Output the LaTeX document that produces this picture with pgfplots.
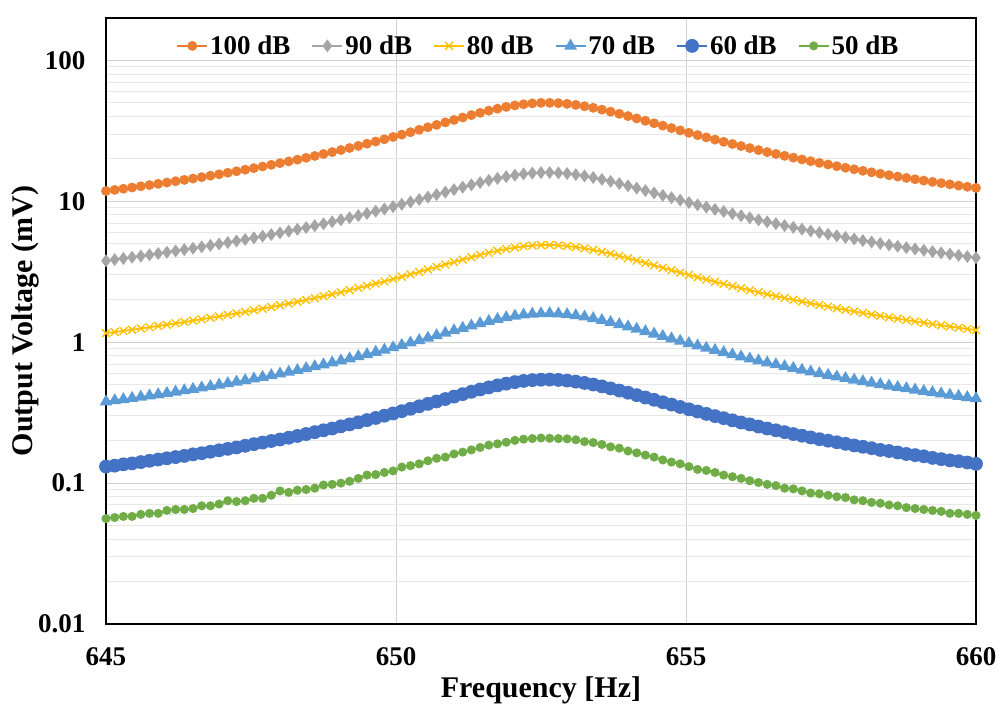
\documentclass[border=0pt]{standalone}
\usepackage{pgfplots}
\usepackage{pgfplotstable}
\pgfplotsset{compat=1.18}
\usepackage{fontspec}
\setmainfont{Liberation Serif}
\definecolor{c100}{RGB}{237,125,49}
\definecolor{c90}{RGB}{165,165,165}
\definecolor{c80}{RGB}{255,192,0}
\definecolor{c70}{RGB}{91,155,213}
\definecolor{c60}{RGB}{68,114,196}
\definecolor{c50}{RGB}{112,173,71}
\pgfplotstableread{
f a b c d e g
645.00 11.83 3.784 1.159 0.378 0.131 0.056
645.15 12.05 3.856 1.181 0.386 0.133 0.057
645.30 12.28 3.930 1.203 0.393 0.136 0.058
645.45 12.53 4.008 1.227 0.401 0.138 0.058
645.60 12.78 4.088 1.252 0.409 0.141 0.060
645.75 13.04 4.171 1.277 0.417 0.144 0.061
645.90 13.31 4.258 1.304 0.426 0.147 0.061
646.05 13.59 4.349 1.332 0.435 0.150 0.064
646.20 13.89 4.443 1.361 0.444 0.153 0.065
646.35 14.19 4.541 1.391 0.454 0.156 0.065
646.50 14.51 4.643 1.422 0.464 0.160 0.066
646.65 14.85 4.750 1.455 0.475 0.163 0.069
646.80 15.20 4.862 1.489 0.486 0.167 0.069
646.95 15.56 4.978 1.524 0.498 0.171 0.071
647.10 15.94 5.101 1.562 0.510 0.175 0.075
647.25 16.34 5.229 1.601 0.523 0.179 0.074
647.40 16.76 5.363 1.642 0.536 0.184 0.075
647.55 17.20 5.504 1.686 0.550 0.189 0.078
647.70 17.66 5.651 1.731 0.565 0.194 0.078
647.85 18.15 5.806 1.778 0.581 0.199 0.082
648.00 18.66 5.970 1.828 0.597 0.204 0.088
648.15 19.20 6.142 1.881 0.614 0.210 0.086
648.30 19.76 6.323 1.937 0.632 0.216 0.089
648.45 20.36 6.515 1.995 0.652 0.223 0.090
648.60 20.99 6.717 2.057 0.672 0.230 0.092
648.75 21.66 6.930 2.122 0.693 0.237 0.097
648.90 22.36 7.155 2.191 0.716 0.244 0.098
649.05 23.11 7.394 2.264 0.739 0.253 0.100
649.20 23.90 7.646 2.342 0.765 0.261 0.103
649.35 24.74 7.915 2.424 0.792 0.270 0.108
649.50 25.63 8.200 2.511 0.820 0.280 0.114
649.65 26.57 8.501 2.603 0.850 0.290 0.115
649.80 27.56 8.819 2.701 0.882 0.301 0.119
649.95 28.62 9.158 2.805 0.916 0.312 0.122
650.10 29.74 9.517 2.915 0.952 0.324 0.130
650.25 30.93 9.896 3.031 0.990 0.337 0.133
650.40 32.18 10.30 3.154 1.030 0.351 0.137
650.55 33.50 10.72 3.283 1.072 0.365 0.144
650.70 34.88 11.16 3.418 1.116 0.380 0.150
650.85 36.33 11.62 3.560 1.162 0.395 0.153
651.00 37.82 12.10 3.706 1.210 0.411 0.161
651.15 39.36 12.59 3.857 1.259 0.428 0.166
651.30 40.91 13.09 4.009 1.309 0.445 0.172
651.45 42.47 13.59 4.162 1.359 0.462 0.179
651.60 43.99 14.08 4.311 1.408 0.478 0.186
651.75 45.44 14.54 4.453 1.454 0.494 0.190
651.90 46.77 14.96 4.583 1.496 0.508 0.195
652.05 47.93 15.34 4.697 1.534 0.521 0.201
652.20 48.87 15.64 4.789 1.564 0.531 0.205
652.35 49.55 15.86 4.856 1.586 0.538 0.207
652.50 49.93 15.98 4.893 1.598 0.542 0.209
652.65 49.99 16.00 4.899 1.600 0.543 0.208
652.80 49.73 15.91 4.873 1.591 0.540 0.207
652.95 49.18 15.74 4.819 1.574 0.534 0.206
653.10 48.35 15.47 4.738 1.547 0.525 0.203
653.25 47.31 15.14 4.636 1.514 0.514 0.197
653.40 46.09 14.75 4.516 1.475 0.501 0.194
653.55 44.72 14.31 4.383 1.431 0.486 0.188
653.70 43.27 13.85 4.241 1.385 0.470 0.181
653.85 41.77 13.37 4.094 1.337 0.454 0.177
654.00 40.25 12.88 3.945 1.288 0.438 0.169
654.15 38.75 12.40 3.797 1.240 0.421 0.164
654.30 37.26 11.92 3.652 1.192 0.405 0.158
654.45 35.83 11.46 3.511 1.146 0.390 0.153
654.60 34.44 11.02 3.375 1.102 0.375 0.146
654.75 33.11 10.60 3.245 1.060 0.361 0.141
654.90 31.85 10.19 3.121 1.019 0.347 0.137
655.05 30.64 9.805 3.003 0.981 0.334 0.131
655.20 29.50 9.440 2.891 0.944 0.322 0.125
655.35 28.42 9.094 2.785 0.909 0.310 0.123
655.50 27.40 8.768 2.685 0.877 0.299 0.119
655.65 26.44 8.459 2.591 0.846 0.289 0.114
655.80 25.53 8.168 2.501 0.817 0.279 0.111
655.95 24.67 7.893 2.417 0.789 0.269 0.108
656.10 23.86 7.634 2.338 0.763 0.261 0.104
656.25 23.09 7.387 2.262 0.739 0.252 0.101
656.40 22.36 7.155 2.191 0.716 0.244 0.098
656.55 21.68 6.936 2.124 0.694 0.237 0.096
656.70 21.03 6.728 2.060 0.673 0.230 0.092
656.85 20.41 6.530 2.000 0.653 0.223 0.091
657.00 19.82 6.342 1.942 0.634 0.217 0.088
657.15 19.27 6.165 1.888 0.617 0.211 0.085
657.30 18.74 5.997 1.837 0.600 0.205 0.084
657.45 18.24 5.837 1.788 0.584 0.200 0.082
657.60 17.76 5.683 1.741 0.568 0.195 0.080
657.75 17.31 5.538 1.696 0.554 0.190 0.079
657.90 16.88 5.400 1.654 0.540 0.185 0.076
658.05 16.46 5.267 1.613 0.527 0.181 0.075
658.20 16.07 5.141 1.574 0.514 0.177 0.073
658.35 15.69 5.019 1.537 0.502 0.172 0.072
658.50 15.33 4.904 1.502 0.490 0.169 0.070
658.65 14.98 4.794 1.468 0.479 0.165 0.069
658.80 14.65 4.688 1.436 0.469 0.161 0.067
658.95 14.34 4.587 1.405 0.459 0.158 0.066
659.10 14.03 4.490 1.375 0.449 0.155 0.065
659.25 13.74 4.395 1.346 0.440 0.151 0.064
659.40 13.46 4.306 1.319 0.431 0.148 0.063
659.55 13.19 4.219 1.292 0.422 0.145 0.061
659.70 12.93 4.136 1.267 0.414 0.143 0.061
659.85 12.68 4.056 1.242 0.406 0.140 0.060
660.00 12.44 3.979 1.219 0.398 0.137 0.059
}\data
\begin{document}
\begin{tikzpicture}
\useasboundingbox (-106pt,-83pt) rectangle (893pt,624pt);
\begin{axis}[
  at={(0pt,0pt)}, anchor=south west,
  scale only axis, width=870pt, height=606pt,
  xmin=645, xmax=660, ymode=log, ymin=0.01, ymax=200,
  xtick={645,650,655,660},
  ytick={0.01,0.1,1,10,100},
  yticklabels={0.01,0.1,1,10,100},
  /pgf/number format/assume math mode=true,
  xticklabel style={font=\fontsize{27}{27}\selectfont\bfseries, yshift=-20pt},
  yticklabel style={font=\fontsize{27}{27}\selectfont\bfseries, xshift=-17pt},
  major tick length=0pt, minor tick length=0pt,
  xmajorgrids, ymajorgrids, yminorgrids,
  major grid style={draw=black!18, line width=1pt},
  minor grid style={draw=black!9, line width=1pt},
  axis line style={line width=2pt, black},
  xlabel={\bfseries Frequency [Hz]},
  ylabel={\bfseries Output Voltage (mV)},
  label style={font=\fontsize{30}{30}\selectfont},
  xlabel style={at={(axis description cs:0.5,-0.109)}, anchor=center},
  ylabel style={at={(axis description cs:-0.093,0.5)}, anchor=center},
  legend columns=6,
  legend style={at={(0.497,0.954)}, anchor=center, draw=none, fill=none,
    font=\fontsize{27}{27}\selectfont\bfseries,
    /tikz/every even column/.append style={column sep=19pt}},
  legend image code/.code={\draw[mark repeat=2,mark phase=2] plot coordinates {(0pt,0pt) (15pt,0pt) (30pt,0pt)};},
  every axis plot/.append style={line width=1.8pt},
]
\addplot[c100, mark=*, mark size=4pt, mark options={draw=c100, fill=c100}] table[x=f,y=a] {\data};
\addlegendentry{100 dB}
\addplot[c90, mark=diamond*, mark size=5pt, mark options={draw=c90, fill=c90}] table[x=f,y=b] {\data};
\addlegendentry{90 dB}
\addplot[c80, mark=x, mark size=5.5pt, mark options={draw=c80, line width=1.4pt}] table[x=f,y=c] {\data};
\addlegendentry{80 dB}
\addplot[c70, mark=triangle*, mark size=5.5pt, mark options={draw=c70, fill=c70}] table[x=f,y=d] {\data};
\addlegendentry{70 dB}
\addplot[c60, mark=*, mark size=6pt, mark options={draw=c60, fill=c60}] table[x=f,y=e] {\data};
\addlegendentry{60 dB}
\addplot[c50, mark=*, mark size=3.6pt, mark options={draw=c50, fill=c50}] table[x=f,y=g] {\data};
\addlegendentry{50 dB}
\end{axis}
\end{tikzpicture}
\end{document}
